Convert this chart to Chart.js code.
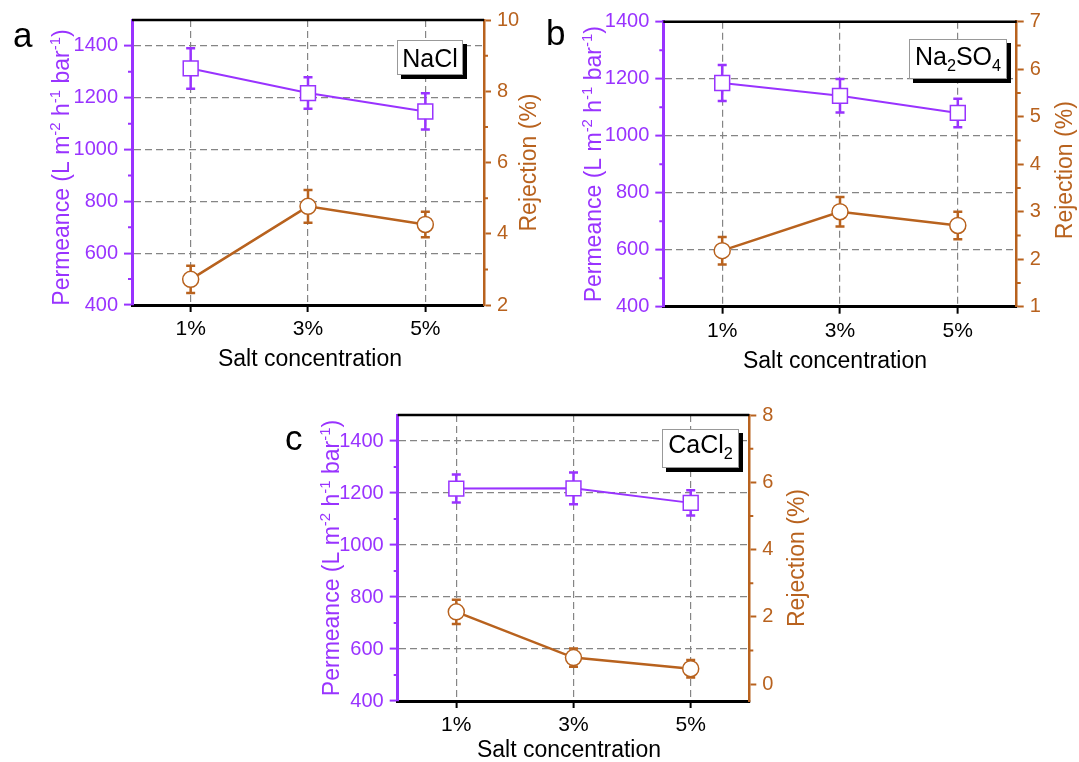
<!DOCTYPE html>
<html>
<head>
<meta charset="utf-8">
<script src="https://cdn.jsdelivr.net/npm/chart.js@4.4.0/dist/chart.umd.min.js"></script>
<style>
  html, body { margin: 0; padding: 0; background: #fff; width: 1079px; height: 762px; overflow: hidden; }
  canvas { position: absolute; }
</style>
</head>
<body>
<canvas id="panelA" width="545" height="380" style="left:0px;top:0px"></canvas>
<canvas id="panelB" width="534" height="380" style="left:545px;top:0px"></canvas>
<canvas id="panelC" width="580" height="372" style="left:250px;top:390px"></canvas>
<script>
// ---- data ----
const concentrations = ['1%', '3%', '5%'];

const permeanceTicks = [400, 600, 800, 1000, 1200, 1400];
const permeanceMinorTicks = [500, 700, 900, 1100, 1300];

// NaCl
const naclPermeance = [1313, 1218, 1147];
const naclPermeanceErr = [78, 61, 70];
const naclRejection = [2.72, 4.77, 4.26];
const naclRejectionErr = [0.38, 0.46, 0.36];
const naclRejectionTicks = [2, 4, 6, 8, 10];
const naclRejectionMinorTicks = [3, 5, 7, 9];

// Na2SO4
const na2so4Permeance = [1185, 1140, 1080];
const na2so4PermeanceErr = [63, 59, 50];
const na2so4Rejection = [2.18, 3.0, 2.71];
const na2so4RejectionErr = [0.29, 0.31, 0.29];
const na2so4RejectionTicks = [1, 2, 3, 4, 5, 6, 7];
const na2so4RejectionMinorTicks = [1.5, 2.5, 3.5, 4.5, 5.5, 6.5];

// CaCl2
const cacl2Permeance = [1217, 1218, 1162];
const cacl2PermeanceErr = [54, 61, 49];
const cacl2Rejection = [2.15, 0.79, 0.46];
const cacl2RejectionErr = [0.36, 0.27, 0.26];
const cacl2RejectionTicks = [0, 2, 4, 6, 8];
const cacl2RejectionMinorTicks = [1, 3, 5, 7];

// ---- styling ----
const FONT = "'Liberation Sans', Arial, Helvetica, sans-serif";
const PURPLE = '#9933FF';
const ORANGE = '#B8621E';
const GRID = '#858585';
const font = px => px + 'px ' + FONT;
const plainNumber = v => String(v);

const permeanceTitle = [['Permeance (L m', 0], ['-2', 1], [' h', 0], ['-1', 1], [' bar', 0], ['-1', 1], [')', 0]];
const rejectionTitle = [['Rejection (%)', 0]];
const xTitle = [['Salt concentration', 0]];

// rich text: 0 = normal, 1 = superscript, -1 = subscript
function richWidth(ctx, parts, size) {
  let w = 0;
  for (const [t, k] of parts) {
    ctx.font = font(k ? size * 0.65 : size);
    w += ctx.measureText(t).width;
  }
  return w;
}
function drawRich(ctx, parts, x, y, size, color, align) {
  const w = richWidth(ctx, parts, size);
  let cx = align === 'center' ? x - w / 2 : x;
  ctx.fillStyle = color;
  ctx.textBaseline = 'alphabetic';
  ctx.textAlign = 'left';
  for (const [t, k] of parts) {
    ctx.font = font(k ? size * 0.65 : size);
    const dy = k === 1 ? -size * 0.40 : (k === -1 ? size * 0.22 : 0);
    ctx.fillText(t, cx, y + dy);
    cx += ctx.measureText(t).width;
  }
}
function drawRotated(ctx, parts, bx, cy, size, color) {
  ctx.save();
  ctx.translate(bx, cy);
  ctx.rotate(-Math.PI / 2);
  drawRich(ctx, parts, 0, 0, size, color, 'center');
  ctx.restore();
}

// error bars, minor ticks, frame top, titles, tag box and panel letter
const panelDecor = {
  id: 'panelDecor',
  beforeDatasetsDraw(chart, args, o) {
    const ctx = chart.ctx;
    const xs = chart.scales.x;
    chart.data.datasets.forEach(ds => {
      const ys = chart.scales[ds.yAxisID];
      ctx.save();
      ctx.strokeStyle = ds.borderColor;
      ctx.lineWidth = 2.5;
      ds.errorBars.forEach((e, j) => {
        const v = ds.data[j];
        const x = xs.getPixelForValue(j);
        const yTop = ys.getPixelForValue(v + e);
        const yBot = ys.getPixelForValue(v - e);
        ctx.beginPath();
        ctx.moveTo(x, yTop); ctx.lineTo(x, yBot);
        ctx.moveTo(x - 4.5, yTop); ctx.lineTo(x + 4.5, yTop);
        ctx.moveTo(x - 4.5, yBot); ctx.lineTo(x + 4.5, yBot);
        ctx.stroke();
      });
      ctx.restore();
    });
  },
  afterDraw(chart, args, o) {
    const ctx = chart.ctx;
    const ca = chart.chartArea;
    const yl = chart.scales.y, yr = chart.scales.y1;
    ctx.save();
    // minor ticks
    ctx.lineWidth = 2;
    ctx.strokeStyle = PURPLE;
    ctx.beginPath();
    o.leftMinor.forEach(v => { const y = yl.getPixelForValue(v); ctx.moveTo(ca.left - 4, y); ctx.lineTo(ca.left, y); });
    ctx.stroke();
    ctx.strokeStyle = ORANGE;
    ctx.beginPath();
    o.rightMinor.forEach(v => { const y = yr.getPixelForValue(v); ctx.moveTo(ca.right, y); ctx.lineTo(ca.right + 4, y); });
    ctx.stroke();
    // top frame line
    ctx.strokeStyle = '#000';
    ctx.lineWidth = 2.5;
    ctx.beginPath();
    ctx.moveTo(ca.left, ca.top); ctx.lineTo(ca.right, ca.top);
    ctx.stroke();
    // axis titles
    const midY = (ca.top + ca.bottom) / 2;
    drawRotated(ctx, permeanceTitle, ca.left - o.leftTitleGap, midY + o.leftTitleShift, 23, PURPLE);
    drawRotated(ctx, rejectionTitle, ca.right + o.rightTitleGap, midY + o.rightTitleShift, 23, ORANGE);
    drawRich(ctx, xTitle, (ca.left + ca.right) / 2 + o.xTitleShift, ca.bottom + o.xTitleGap, 23, '#000', 'center');
    // tag box with shadow
    const [ox, oy] = o.origin;
    const b = o.tagBox;
    const bx = b.x - ox, by = b.y - oy;
    ctx.fillStyle = '#000';
    ctx.fillRect(bx + 4, by + 4, b.w, b.h);
    ctx.fillStyle = '#fff';
    ctx.fillRect(bx, by, b.w, b.h);
    ctx.strokeStyle = '#999';
    ctx.lineWidth = 1;
    ctx.strokeRect(bx + 0.5, by + 0.5, b.w - 1, b.h - 1);
    drawRich(ctx, o.tag, bx + b.w / 2, by + b.base, 25, '#000', 'center');
    // panel letter
    ctx.fillStyle = '#000';
    ctx.font = font(35);
    ctx.textAlign = 'left';
    ctx.textBaseline = 'alphabetic';
    ctx.fillText(o.letter[0], o.letter[1] - ox, o.letter[2] - oy);
    ctx.restore();
  }
};

function buildPanel(canvasId, spec) {
  const cv = document.getElementById(canvasId);
  const W = cv.width, H = cv.height;
  const area = spec.area;
  const permMin = spec.permRange[0];
  return new Chart(cv, {
    type: 'line',
    data: {
      labels: concentrations,
      datasets: [
        {
          data: spec.perm, errorBars: spec.permErr, yAxisID: 'y',
          borderColor: PURPLE, borderWidth: 2, tension: 0,
          pointStyle: 'rect', pointRadius: 10.5, pointBorderWidth: 1.5,
          pointBackgroundColor: '#fff', pointBorderColor: PURPLE
        },
        {
          data: spec.rej, errorBars: spec.rejErr, yAxisID: 'y1',
          borderColor: ORANGE, borderWidth: 2.5, tension: 0,
          pointStyle: 'circle', pointRadius: 8, pointBorderWidth: 1.5,
          pointBackgroundColor: '#fff', pointBorderColor: ORANGE
        }
      ]
    },
    options: {
      responsive: false,
      animation: false,
      devicePixelRatio: 1,
      events: [],
      layout: { padding: { top: area.t, left: 0, right: 0, bottom: 0 } },
      plugins: {
        legend: { display: false },
        tooltip: { enabled: false },
        panelDecor: spec.decor
      },
      scales: {
        x: {
          type: 'category',
          offset: true,
          grid: { offset: false, color: GRID, lineWidth: 1.2, drawTicks: true, tickLength: 7, tickColor: '#000', tickWidth: 2 },
          border: { color: '#000', width: 3, dash: [7, 4] },
          ticks: { color: '#000', font: { family: FONT, size: 21 }, padding: 5, maxRotation: 0, autoSkip: false },
          afterFit: s => { s.height = H - area.b; }
        },
        y: {
          position: 'left',
          min: spec.permRange[0], max: spec.permRange[1],
          afterBuildTicks: s => { s.ticks = permeanceTicks.map(v => ({ value: v })); },
          grid: {
            color: c => (c.tick && c.tick.value === permMin) ? 'rgba(0,0,0,0)' : GRID,
            lineWidth: 1.2, tickLength: 8, tickColor: PURPLE, tickWidth: 2
          },
          border: { color: PURPLE, width: 3, dash: [7, 4] },
          ticks: { color: PURPLE, font: { family: FONT, size: 20 }, padding: 6, autoSkip: false, callback: plainNumber },
          afterFit: s => { s.width = area.l; }
        },
        y1: {
          position: 'right',
          min: spec.rejRange[0], max: spec.rejRange[1],
          afterBuildTicks: s => { s.ticks = spec.rejTicks.map(v => ({ value: v })); },
          grid: { drawOnChartArea: false, tickLength: 7, tickColor: ORANGE, tickWidth: 2 },
          border: { color: ORANGE, width: 2.5 },
          ticks: { color: ORANGE, font: { family: FONT, size: 20 }, padding: 6, autoSkip: false, callback: plainNumber },
          afterFit: s => { s.width = W - area.r; }
        }
      }
    },
    plugins: [panelDecor]
  });
}

buildPanel('panelA', {
  area: { l: 132, r: 484, t: 20, b: 305 },
  perm: naclPermeance, permErr: naclPermeanceErr, permRange: [400, 1500],
  rej: naclRejection, rejErr: naclRejectionErr, rejRange: [2, 10], rejTicks: naclRejectionTicks,
  decor: {
    origin: [0, 0],
    leftMinor: permeanceMinorTicks, rightMinor: naclRejectionMinorTicks,
    leftTitleGap: 63, leftTitleShift: 5, rightTitleGap: 52, rightTitleShift: 0,
    xTitleGap: 61, xTitleShift: 2,
    tag: [['NaCl', 0]], tagBox: { x: 397, y: 40, w: 66, h: 35, base: 27 },
    letter: ['a', 13, 47]
  }
});

buildPanel('panelB', {
  area: { l: 118.3, r: 471.7, t: 21.7, b: 306.7 },
  perm: na2so4Permeance, permErr: na2so4PermeanceErr, permRange: [400, 1400],
  rej: na2so4Rejection, rejErr: na2so4RejectionErr, rejRange: [1, 7], rejTicks: na2so4RejectionTicks,
  decor: {
    origin: [545, 0],
    leftMinor: permeanceMinorTicks, rightMinor: na2so4RejectionMinorTicks,
    leftTitleGap: 62, leftTitleShift: 0, rightTitleGap: 55, rightTitleShift: 6,
    xTitleGap: 61, xTitleShift: -5,
    tag: [['Na', 0], ['2', -1], ['SO', 0], ['4', -1]], tagBox: { x: 909, y: 39, w: 98, h: 40, base: 26 },
    letter: ['b', 546, 45]
  }
});

buildPanel('panelC', {
  area: { l: 147.7, r: 499.3, t: 25, b: 311 },
  perm: cacl2Permeance, permErr: cacl2PermeanceErr, permRange: [400, 1500],
  rej: cacl2Rejection, rejErr: cacl2RejectionErr, rejRange: [-0.5, 8], rejTicks: cacl2RejectionTicks,
  decor: {
    origin: [250, 390],
    leftMinor: permeanceMinorTicks, rightMinor: cacl2RejectionMinorTicks,
    leftTitleGap: 58.4, leftTitleShift: 0, rightTitleGap: 55, rightTitleShift: 0,
    xTitleGap: 55.7, xTitleShift: -4.5,
    tag: [['CaCl', 0], ['2', -1]], tagBox: { x: 662, y: 429, w: 77, h: 39, base: 24 },
    letter: ['c', 285, 450]
  }
});
</script>
</body>
</html>
